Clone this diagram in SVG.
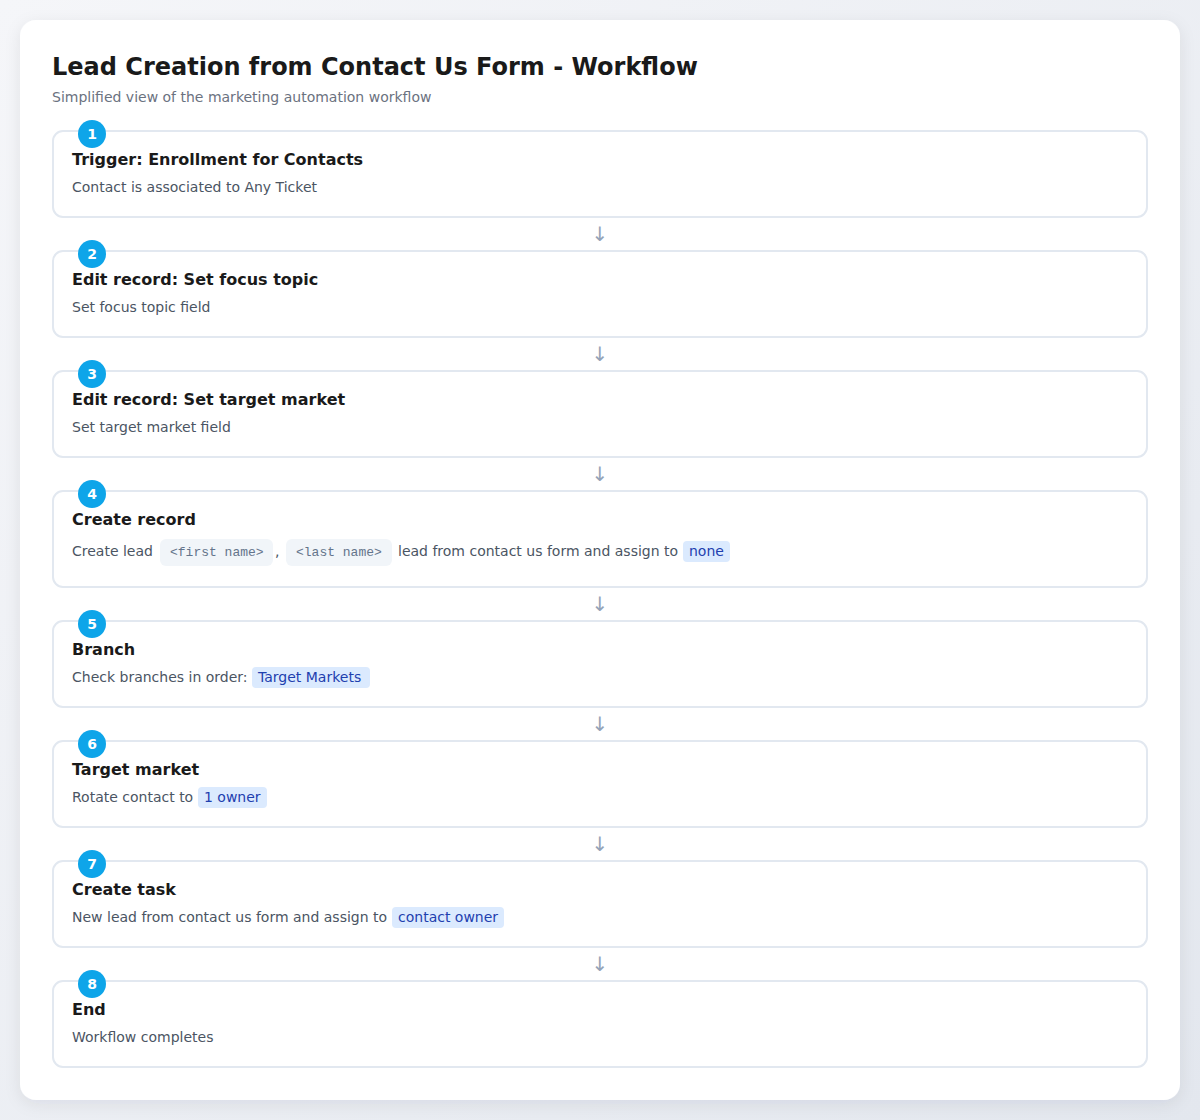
<svg xmlns="http://www.w3.org/2000/svg" width="1200" height="1120" viewBox="0 0 1200 1120">
<defs>
<linearGradient id="bg" x1="0" y1="0" x2="1" y2="1">
<stop offset="0" stop-color="#f5f6f9"/>
<stop offset="1" stop-color="#e3e7ee"/>
</linearGradient>
<filter id="sh" x="-10%" y="-10%" width="120%" height="120%">
<feDropShadow dx="0" dy="4" stdDeviation="8" flood-color="#1e293b" flood-opacity="0.08"/>
</filter>
<style>
.ttl{font-family:"DejaVu Sans",sans-serif;font-weight:bold;font-size:24px;fill:#1a1a1a}
.sub{font-family:"DejaVu Sans",sans-serif;font-size:14px;fill:#6b7280}
.card{fill:#ffffff;stroke:#e2e8f0;stroke-width:2}
.badge{fill:#0ea5e9}
.num{font-family:"DejaVu Sans",sans-serif;font-weight:bold;font-size:14px;fill:#ffffff;text-anchor:middle}
.h{font-family:"DejaVu Sans",sans-serif;font-weight:bold;font-size:16px;fill:#1a1a1a}
.b{font-family:"DejaVu Sans",sans-serif;font-size:14px;fill:#4b5563}
.pill{fill:#dbeafe}
.pt{font-family:"DejaVu Sans",sans-serif;font-size:14px;fill:#1e40af}
.code{fill:#f1f5f9}
.ct{font-family:"Liberation Mono",monospace;font-size:13px;fill:#64748b}
.arr{font-family:"DejaVu Sans",sans-serif;font-size:20px;fill:#94a3b8;text-anchor:middle}
</style>
</defs>
<rect width="1200" height="1120" fill="url(#bg)"/>
<rect x="20" y="20" width="1160" height="1080" rx="16" fill="#ffffff" filter="url(#sh)"/>
<text class="ttl" x="52" y="75">Lead Creation from Contact Us Form - Workflow</text>
<text class="sub" x="52" y="102">Simplified view of the marketing automation workflow</text>

<g id="connectors">
<text class="arr" x="600" y="241">↓</text>
<text class="arr" x="600" y="361">↓</text>
<text class="arr" x="600" y="481">↓</text>
<text class="arr" x="600" y="611">↓</text>
<text class="arr" x="600" y="731">↓</text>
<text class="arr" x="600" y="851">↓</text>
<text class="arr" x="600" y="971">↓</text>
</g>

<g id="step1">
<rect class="card" x="53" y="131" width="1094" height="86" rx="10"/>
<circle class="badge" cx="92" cy="134" r="14"/>
<text class="num" x="92" y="139">1</text>
<text class="h" x="72" y="165">Trigger: Enrollment for Contacts</text>
<text class="b" x="72" y="192">Contact is associated to Any Ticket</text>
</g>

<g id="step2">
<rect class="card" x="53" y="251" width="1094" height="86" rx="10"/>
<circle class="badge" cx="92" cy="254" r="14"/>
<text class="num" x="92" y="259">2</text>
<text class="h" x="72" y="285">Edit record: Set focus topic</text>
<text class="b" x="72" y="312">Set focus topic field</text>
</g>

<g id="step3">
<rect class="card" x="53" y="371" width="1094" height="86" rx="10"/>
<circle class="badge" cx="92" cy="374" r="14"/>
<text class="num" x="92" y="379">3</text>
<text class="h" x="72" y="405">Edit record: Set target market</text>
<text class="b" x="72" y="432">Set target market field</text>
</g>

<g id="step4">
<rect class="card" x="53" y="491" width="1094" height="96" rx="10"/>
<circle class="badge" cx="92" cy="494" r="14"/>
<text class="num" x="92" y="499">4</text>
<text class="h" x="72" y="525">Create record</text>
<text class="b" x="72" y="556">Create lead</text>
<rect class="code" x="160" y="539" width="113" height="27" rx="6"/>
<text class="ct" x="170" y="556">&lt;first name&gt;</text>
<text class="b" x="275" y="556">,</text>
<rect class="code" x="286" y="539" width="106" height="27" rx="6"/>
<text class="ct" x="296" y="556">&lt;last name&gt;</text>
<text class="b" x="398" y="556">lead from contact us form and assign to</text>
<rect class="pill" x="683" y="541" width="47" height="21" rx="4"/>
<text class="pt" x="689" y="556">none</text>
</g>

<g id="step5">
<rect class="card" x="53" y="621" width="1094" height="86" rx="10"/>
<circle class="badge" cx="92" cy="624" r="14"/>
<text class="num" x="92" y="629">5</text>
<text class="h" x="72" y="655">Branch</text>
<text class="b" x="72" y="682">Check branches in order:</text>
<rect class="pill" x="252" y="667" width="118" height="21" rx="4"/>
<text class="pt" x="258" y="682">Target Markets</text>
</g>

<g id="step6">
<rect class="card" x="53" y="741" width="1094" height="86" rx="10"/>
<circle class="badge" cx="92" cy="744" r="14"/>
<text class="num" x="92" y="749">6</text>
<text class="h" x="72" y="775">Target market</text>
<text class="b" x="72" y="802">Rotate contact to</text>
<rect class="pill" x="198" y="787" width="69" height="21" rx="4"/>
<text class="pt" x="204" y="802">1 owner</text>
</g>

<g id="step7">
<rect class="card" x="53" y="861" width="1094" height="86" rx="10"/>
<circle class="badge" cx="92" cy="864" r="14"/>
<text class="num" x="92" y="869">7</text>
<text class="h" x="72" y="895">Create task</text>
<text class="b" x="72" y="922">New lead from contact us form and assign to</text>
<rect class="pill" x="392" y="907" width="112" height="21" rx="4"/>
<text class="pt" x="398" y="922">contact owner</text>
</g>

<g id="step8">
<rect class="card" x="53" y="981" width="1094" height="86" rx="10"/>
<circle class="badge" cx="92" cy="984" r="14"/>
<text class="num" x="92" y="989">8</text>
<text class="h" x="72" y="1015">End</text>
<text class="b" x="72" y="1042">Workflow completes</text>
</g>
</svg>
